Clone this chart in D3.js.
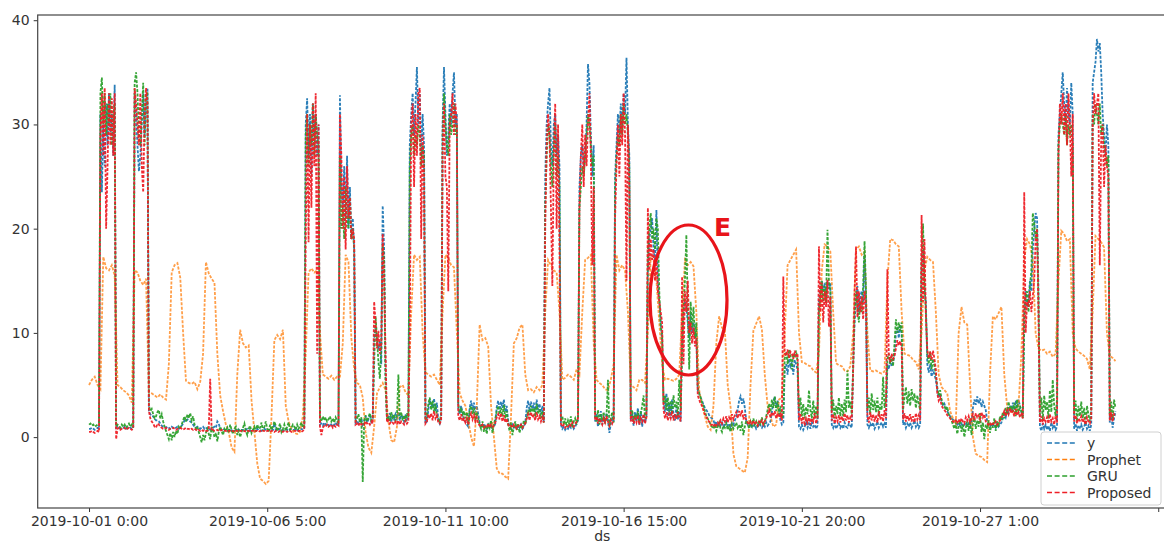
<!DOCTYPE html>
<html>
<head>
<meta charset="utf-8">
<script src="https://cdn.jsdelivr.net/npm/d3@7"></script>
<style>
  body { margin: 0; background: #fff; }
  svg { display: block; }
  text { font-family: "DejaVu Sans", sans-serif; }
</style>
</head>
<body>
<svg id="chart"></svg>
<script>
////Global variables
const width = 1164;
const height = 543;
const startTime = Date.UTC(2019, 9, 1, 0, 0); // 2019-10-01 0:00, hourly data
const HOUR = 3600 * 1000;

// observed load, hourly (one row = one day)
const yValues = [
  0.8,0.8,0.9,0.8,0.7,0.8,0.9,0.8,31,23.5,30,26,32,28,33,29,31,27,33.8,0.9,1.0,0.9,0.8,0.9,
  0.9,1.0,0.8,0.9,1.0,0.9,0.8,1.0,33,31,28,25.5,27,30,33,29,32,33.5,2.5,2.2,2.0,2.0,1.8,1.6,
  1.6,1.5,1.3,1.1,1.0,1.0,0.9,1.0,0.9,0.8,1.0,0.9,0.8,0.9,1.0,0.8,0.9,1.1,1.3,1.6,1.5,1.7,1.6,1.5,
  1.4,1.2,1.0,0.9,1.0,0.9,0.8,0.9,1.0,0.8,0.9,0.8,0.9,0.7,0.8,0.9,1.0,0.9,1.5,1.3,0.8,0.7,0.8,0.7,
  0.7,0.6,0.7,0.8,0.6,0.7,0.6,0.7,0.8,0.7,0.6,0.7,0.7,0.6,0.7,0.8,0.7,0.6,0.7,0.7,0.6,0.7,0.8,0.7,
  0.7,0.6,0.7,0.8,0.7,0.6,0.7,0.7,0.8,0.7,1.3,0.7,0.6,0.7,0.8,0.7,0.6,0.7,0.8,0.7,0.6,0.7,0.8,0.7,
  0.7,0.8,0.7,0.6,0.7,0.8,0.7,0.9,30,32.5,27,31,25,32,29,31,27,30,1.2,1.3,1.1,1.4,1.2,1.3,
  1.1,1.3,1.2,1.0,1.2,1.4,1.1,1.2,32.8,24,22,26,21,27,20,24,19,21,18,1.4,1.6,1.3,1.5,1.8,
  1.2,1.5,2.0,1.4,1.7,2.2,1.5,1.8,9.5,10.6,9.0,8.4,9.2,7.0,22.2,18,6.0,1.6,1.9,2.3,1.5,2.0,1.7,2.2,
  1.8,2.4,1.6,2.1,1.9,1.5,2.2,1.7,2.0,28,31,33,29,32,35.5,30,33,27,31,28,1.3,1.5,2.6,3.5,
  3.2,2.8,3.7,2.5,3.3,1.6,1.3,1.8,30,35.5,31,27,29,32,30,33,35,30,31,2.8,2.2,3.0,2.4,1.6,
  1.5,1.2,1.0,2.8,3.5,2.6,3.3,2.4,3.0,2.2,1.4,1.1,0.9,1.3,1.0,0.8,1.2,0.9,1.1,0.8,1.0,1.3,2.9,3.5,
  2.6,3.4,2.8,3.6,2.4,3.0,1.5,1.0,0.8,1.2,0.9,1.0,0.8,1.1,0.9,1.2,0.8,1.0,1.4,2.8,3.5,2.5,3.4,2.7,
  3.3,2.4,3.6,2.6,3.2,2.2,3.0,1.5,25,30,32,33.5,28,26,30,31,27,29,26,1.2,0.8,1.0,0.7,0.9,
  0.8,1.1,0.9,1.2,0.8,1.0,1.3,1.6,24,27,28,26,27,30,35.8,34,29,25,28,1.5,2.2,1.0,1.8,2.5,
  1.2,2.0,1.4,2.3,1.6,0.4,1.3,1.8,1.5,25,28,31,29,32,30,33,31,36.4,30,27,1.6,2.2,1.1,2.4,
  1.5,2.8,1.2,2.5,1.0,2.2,1.4,2.0,16,19,20,21,18,17,21.8,15,13,11,9,3.5,2.4,4.2,2.0,3.3,
  1.8,3.6,2.2,1.6,2.9,1.7,2.5,1.5,10,12,13,12.5,11,9.5,12,10,11,9.5,10,4.5,4.2,3.8,3.5,3.1,
  2.8,2.6,2.4,2.1,1.9,1.8,1.6,1.2,1.5,1.0,1.3,1.1,1.4,1.0,1.2,1.5,1.1,1.3,1.0,1.4,1.2,1.6,2.0,2.6,
  3.5,3.9,3.2,3.7,2.8,1.6,1.2,1.0,1.3,0.9,1.1,1.2,0.8,1.0,1.3,1.1,0.9,1.2,1.0,1.4,1.1,1.3,1.5,2.4,
  3.4,3.9,2.8,3.5,2.6,1.6,1.2,1.4,6.5,7,6,7.5,6.8,7.2,6,7.4,7,6.5,1.0,0.8,1.2,0.7,1.0,1.4,
  0.9,1.3,0.8,1.5,1.0,1.2,0.8,1.1,13,14.5,15,14,14.8,13.5,15,14.2,14.8,1.2,0.9,1.4,0.8,1.1,1.3,0.9,
  1.2,0.8,1.4,1.0,0.9,1.3,1.1,0.9,7,11,13,14.5,12,13.5,14,13,17.5,13.5,1.2,0.9,1.3,1.0,1.4,0.8,
  1.1,1.5,0.9,1.2,1.4,1.0,1.3,0.9,7,6.5,7.5,6.8,7.2,8,10,10.5,9.5,10.8,10,1.2,1.5,0.9,1.3,1.0,
  1.4,0.9,1.2,1.6,1.0,1.3,0.9,1.2,16,18,14,13,7,6.2,7,5.8,6.5,6,5.5,4.5,3.8,4.2,3.4,3.0,
  3.2,2.8,2.5,2.2,2.0,1.8,1.7,1.5,1.6,1.2,1.4,1.1,1.3,1.0,1.2,1.4,1.1,1.3,1.0,1.4,2.8,3.6,3.1,3.9,
  3.2,3.7,2.9,3.4,3.0,2.6,1.5,1.2,1.0,1.3,1.1,1.2,0.9,1.3,1.0,1.2,1.4,1.8,2.2,1.9,2.6,2.3,3.0,2.5,
  3.3,2.6,3.5,2.8,3.6,3.0,2.4,2.0,12,14,12.5,13,15,14,18,20,21.5,21,14,1.0,0.6,1.3,0.8,1.2,
  0.7,1.1,0.6,1.4,0.9,1.2,0.7,1.0,29,31,33,35,32,30,33.5,31,30,34,31,0.8,1.3,0.6,1.1,0.9,
  1.2,0.7,1.0,1.4,0.8,1.1,0.6,1.2,34,35,36,38.2,37,37.8,35,31,29,27,30,28,1.4,2.2,0.9,1.8,
  2.5
];

// Prophet forecast, every 2 hours (one row = one day)
const prophetValues = [
  5.0,5.5,5.8,5.0,4.6,17.3,16.2,16.0,16.5,15.5,5.0,4.8,
  4.5,4.3,4.0,3.3,16.0,15.8,15.0,14.6,15.2,4.3,4.2,4.0,
  3.8,4.1,3.8,3.6,7.0,15.8,16.5,16.7,15.3,10.0,5.4,5.2,
  5.1,5.3,4.6,5.3,8.0,16.8,15.7,15.2,14.8,8.0,4.0,2.5,
  1.2,0.5,-1.0,-1.4,6.0,10.3,9.0,8.6,8.8,3.5,0.5,-2.5,
  -4.0,-4.2,-4.5,-4.2,2.0,9.3,9.8,9.4,10.3,3.0,1.5,0.8,
  0.4,0.3,0.5,2.0,8.0,15.8,16.2,15.8,16.0,10.0,6.0,5.8,
  5.6,5.9,5.5,5.8,5.8,9.0,17.5,16.8,9.5,6.5,5.2,5.0,
  3.8,0.5,-1.0,-1.5,1.0,4.2,4.8,5.2,4.5,1.5,-0.3,-0.5,
  1.0,4.8,5.0,4.3,4.0,12.0,17.5,17.0,17.3,10.0,6.2,6.0,
  5.8,6.0,5.5,5.0,12.0,17.5,17.2,16.5,16.3,10.0,4.2,3.5,
  3.0,1.6,0.0,-0.9,3.0,10.8,9.3,9.5,8.7,3.0,0.0,-3.0,
  -3.5,-3.5,-3.8,-4.0,2.0,9.0,9.5,10.5,10.8,6.0,4.5,4.6,
  4.3,4.8,4.5,5.0,12.0,17.0,16.5,16.0,15.8,12.0,5.5,5.7,
  6.0,5.8,5.5,6.5,6.0,12.0,17.0,17.2,17.5,9.0,5.5,5.2,
  5.0,4.6,4.5,5.5,7.0,17.5,16.0,16.5,16.0,12.0,5.0,4.8,
  4.5,5.5,5.5,5.2,10.0,17.2,17.0,15.0,11.0,7.0,5.5,5.6,
  5.5,5.4,5.6,6.0,12.0,17.0,16.5,16.8,16.4,12.0,4.5,3.0,
  2.0,1.0,0.7,3.0,9.0,11.6,10.5,10.3,5.0,2.9,-1.6,-2.8,
  -3.0,-3.2,-3.4,-2.0,5.0,10.2,10.9,11.6,10.3,6.0,3.0,2.0,
  1.0,1.2,3.6,3.8,10.0,16.5,17.0,17.5,18.0,10.0,7.2,7.1,
  6.9,6.8,6.4,6.2,8.0,16.0,18.5,18.3,17.8,12.0,7.1,6.9,
  6.8,6.4,6.3,6.8,10.0,18.0,18.3,17.5,17.8,10.0,6.4,6.3,
  6.4,6.2,6.1,6.3,15.0,19.0,18.9,18.5,18.3,12.0,8.0,7.9,
  7.8,7.4,7.2,6.5,10.0,16.0,17.3,17.0,16.8,12.0,6.0,4.8,
  4.5,4.2,2.5,1.8,1.3,10.0,12.5,11.0,10.8,5.0,0.0,-1.6,
  -1.8,-1.9,-2.2,-2.4,6.0,11.6,11.3,11.9,12.5,6.0,2.9,2.5,
  2.3,2.3,3.0,8.0,17.0,19.0,18.5,17.0,10.0,8.5,8.3,8.4,
  8.0,8.2,7.7,8.0,15.0,19.8,19.5,18.8,19.0,10.0,8.5,8.2,
  8.0,7.8,7.5,6.5,12.0,19.3,19.0,18.7,18.2,10.0,7.8,7.6,
  7.3
];

// GRU forecast, hourly
const gruValues = [
  1.2,1.3,1.1,1.2,1.0,1.1,1.2,1.3,33,34.5,30,33,29,32,30,33,28,31,32,1.0,1.2,1.1,0.9,1.2,
  1.0,1.2,0.9,1.1,1.3,1.0,1.2,0.9,34,35,33,29,28,31,34,28,33,33,3.0,2.5,2.7,2.2,1.8,2.0,
  2.4,2.6,1.8,2.2,1.5,1.0,0.6,0.2,-0.2,0.4,-0.3,0.5,0.0,0.6,0.3,1.0,0.8,1.2,1.6,2.0,1.5,2.2,1.8,2.3,
  1.6,2.0,1.2,0.8,1.0,0.5,0.0,-0.5,0.2,-0.3,0.4,0.8,0.3,-0.2,1.0,0.6,0.0,0.4,-0.4,0.5,1.0,0.6,0.2,0.8,
  0.6,0.9,0.4,1.2,0.7,0.3,0.8,1.0,0.2,0.6,0.0,0.5,0.9,1.3,0.6,0.2,0.8,1.1,0.4,0.7,1.0,0.5,1.2,0.8,
  0.9,1.4,0.6,1.0,1.5,0.8,0.5,1.2,0.7,1.0,1.5,1.1,0.6,0.9,1.3,0.5,0.8,1.2,0.6,1.0,1.4,0.7,0.9,1.2,
  1.0,0.7,1.2,0.8,1.1,1.4,0.9,1.2,29,31,26,30,28,32,27,31,29,28,1.8,1.5,2.0,1.6,1.9,1.5,
  1.7,2.0,1.5,1.8,1.4,1.9,1.6,1.3,27,20,22,19,24,21,20,23,19,20,18,1.5,1.8,2.2,1.4,1.9,
  -4.3,1.6,2.1,1.5,1.9,2.3,1.6,1.8,7.0,11.6,9.5,7.2,5.6,8.5,18.5,17.0,5.0,1.8,2.0,1.5,2.4,1.7,2.2,1.6,
  2.0,6.0,1.8,2.4,1.6,2.1,1.5,2.3,1.9,26,29,30,27,29,28,30,29,26,28,27,1.6,2.0,3.2,3.8,
  2.6,3.5,2.4,3.2,2.0,1.8,1.5,2.2,29,33,30,28,27,31,29,30,32,29,30,3.2,2.4,2.8,2.0,2.5,
  1.8,2.4,1.2,2.6,3.0,2.2,2.8,1.6,2.4,1.8,1.2,0.8,1.5,0.5,1.1,0.3,1.3,0.9,1.6,0.4,1.2,1.8,2.5,3.0,
  2.2,2.8,2.0,3.1,1.8,2.5,1.2,0.6,1.4,0.2,1.0,1.5,0.7,1.3,0.4,1.1,0.9,1.6,1.2,1.8,2.6,2.1,3.0,2.4,
  2.8,2.0,3.2,2.2,2.7,1.8,2.5,1.4,22,27,30,29,26,24,28,30,25,27,24,1.5,2.0,1.2,1.8,1.0,
  1.6,1.2,2.0,0.9,1.5,1.8,1.2,2.0,22,24,26,25,27,29,31,30,28,26,27,2.0,1.5,2.6,1.2,2.2,
  1.6,2.4,1.3,2.0,5.5,1.0,1.8,2.4,1.4,24,27,29,28,31,29,32,30,31,29,26,2.0,2.6,1.5,2.2,
  1.8,2.5,1.4,2.2,3.0,4.0,1.8,2.4,18,20,21.5,19,20,18,21,20,14,10.5,10,3.2,4.0,2.6,3.8,2.4,
  3.5,2.2,4.0,2.8,3.4,2.0,5.5,2.5,8,12,15,19.4,12,6.5,13,10.5,12.5,9.5,11,4.8,4.2,3.8,3.3,3.0,
  2.5,2.0,1.8,1.5,1.2,1.0,0.8,1.2,0.6,1.0,1.4,0.8,0.5,1.1,0.9,1.3,0.7,1.0,0.5,1.2,0.8,1.1,1.4,0.9,
  1.2,0.6,1.5,0.2,1.0,1.6,1.3,0.8,1.5,1.1,1.8,1.2,1.5,1.0,1.6,1.3,1.9,1.1,1.4,2.0,2.6,3.2,2.4,3.6,
  2.8,3.9,2.5,3.4,2.2,3.0,1.8,2.2,7.5,8.2,7,8.4,7.8,6.5,8,7.6,8.3,7.2,2.5,3.8,2.0,3.2,1.8,2.9,
  2.2,4.5,2.6,1.8,3.5,2.0,3.0,1.8,12,13.5,15,13,14.5,12.9,19.9,15,14,2.5,3.6,1.8,3.0,2.2,3.8,2.0,
  3.2,2.0,3.6,2.4,6.4,2.8,3.4,2.2,6.5,12,14,12.5,11,13,12,14.5,18.8,14,2.6,3.8,2.2,4.2,2.6,3.5,
  2.4,3.8,2.0,3.2,2.6,5.8,2.8,3.6,7.5,8,7,7.8,6.8,9,11.3,10,11,10.2,11,2.6,3.8,4.8,3.2,4.4,
  3.0,4.6,3.5,4.2,2.8,4.0,3.2,2.6,17,20.5,15,12,8,7,8.2,6.5,7.5,6.8,6,4.8,4.0,4.5,3.6,3.2,
  3.0,2.6,2.9,2.2,2.0,1.6,1.2,0.8,1.4,0.3,1.0,1.6,0.5,1.2,0.0,0.9,1.5,0.6,1.8,0.2,1.2,2.0,0.8,1.6,
  1.0,2.3,0.5,1.4,-0.2,1.2,0.8,1.6,0.4,1.3,0.9,1.8,0.6,1.5,1.0,2.0,1.6,2.4,1.8,2.8,2.2,3.4,2.6,3.0,
  2.4,3.3,2.0,3.6,2.2,3.0,2.5,1.8,11,13.5,14,12,14.5,16,21.5,20.5,19,20,13,2.2,3.8,1.6,4.0,2.6,
  3.4,1.8,4.5,2.4,5.5,3.0,2.0,3.6,28,30,31,30,29,31,28,30,29,30,28,2.2,3.5,1.5,3.0,2.0,
  3.4,1.8,2.8,1.2,3.0,2.2,1.5,2.6,31,30,32,31,30,32,29,30,28,27,26,27,2.0,3.4,1.6,3.6,
  2.8
];

// proposed model forecast, hourly
const proposedValues = [
  0.5,0.5,0.6,0.5,0.4,0.5,0.6,0.5,29,33,27,33.5,20,26,33,28,32.5,27,33,-0.2,0.8,0.9,0.7,0.8,
  0.8,0.9,0.7,0.8,0.9,0.8,0.7,0.9,33.5,32,30,28,33,26,23.5,31,33.5,32,2.5,1.8,1.5,1.3,1.0,0.9,
  1.3,1.2,1.0,0.9,0.8,0.8,0.9,0.8,0.7,0.8,0.8,0.9,0.8,0.7,0.8,0.8,0.9,0.8,0.7,0.8,0.9,0.8,0.8,0.7,
  0.8,0.7,0.8,0.7,0.6,0.7,0.6,0.7,0.6,0.7,0.6,0.6,0.7,5.6,0.6,0.7,0.6,0.6,0.7,0.6,0.6,0.7,0.6,0.6,
  0.6,0.5,0.6,0.6,0.5,0.6,0.5,0.6,0.6,0.5,0.6,0.6,0.5,0.6,0.5,0.6,0.6,0.5,0.6,0.6,0.5,0.6,0.6,0.5,
  0.6,0.5,0.6,0.6,0.5,0.6,0.6,0.5,0.6,0.6,0.5,0.6,0.6,0.5,0.6,0.6,0.5,0.6,0.6,0.5,0.6,0.6,0.5,0.6,
  0.6,0.6,0.5,0.6,0.6,0.5,0.6,0.7,19,31,18.7,30,22,32,26,33,8,30,1.0,0.2,0.9,1.1,1.0,1.2,
  1.0,1.1,1.2,0.9,1.1,1.0,1.2,1.1,31,27,20,25,18,26,21,23,19,20,19,1.2,1.3,1.1,1.4,1.2,
  1.3,1.2,1.5,1.3,1.4,1.2,1.5,1.3,13.0,11.0,8.5,10.2,8.0,9.0,19.5,15.0,8.0,1.4,1.6,1.3,1.5,1.4,1.2,1.5,
  1.3,1.6,1.2,1.5,1.4,1.2,1.6,1.3,1.5,10,30,32,24,31,27,33,33.5,19,29,25,1.3,1.5,2.2,1.8,
  2.3,1.6,2.5,1.8,2.1,1.4,1.3,1.6,27,32,25,24,14,30,31,33,29,32,30,2.0,1.6,2.2,1.5,1.8,
  1.4,1.8,1.2,2.0,2.3,1.7,2.1,1.5,1.9,1.3,1.1,1.0,1.2,0.9,1.1,1.0,1.3,0.9,1.2,1.0,1.1,1.4,1.9,2.2,
  1.7,2.3,1.5,2.1,1.4,1.8,1.2,1.0,1.1,0.9,1.2,1.0,0.8,1.1,1.0,1.2,0.9,1.1,1.3,1.8,2.2,1.6,2.4,1.9,
  2.1,1.6,2.4,1.7,2.0,1.5,1.9,1.4,20,28,31,29,22,14.5,27,32,20,30,18,1.3,1.0,1.2,0.9,1.1,
  1.0,1.3,1.1,1.4,1.0,1.2,1.5,1.8,22,27,30,24,29,26,30,33,27,16.5,24,1.6,2.0,1.3,1.8,1.5,
  1.2,1.8,1.4,2.0,1.5,1.1,1.6,1.3,1.7,21,26,30,25,31,28,33,29,15,30,24,1.5,2.0,1.3,1.8,
  1.4,2.1,1.2,1.8,1.5,2.2,1.3,1.9,22,16,19,17,18,15,17,14,13,12,11,2.6,1.8,2.4,1.6,2.2,
  1.8,2.5,1.6,2.2,1.7,2.4,1.9,1.5,15.4,7,14,12,15,10,11,9,10.5,8.7,9.5,4.0,3.6,3.2,3.0,2.6,
  2.2,2.0,1.6,1.5,1.2,1.2,1.0,1.3,1.1,1.4,1.2,1.6,1.3,1.8,1.5,2.0,1.4,1.9,1.6,2.2,1.7,2.1,2.4,1.8,
  2.5,2.0,2.6,1.7,2.2,1.6,1.4,1.2,1.5,1.3,1.6,1.2,1.4,1.1,1.5,1.3,1.6,1.2,1.5,1.8,2.2,2.6,1.9,2.4,
  2.0,2.5,1.8,2.3,1.9,2.2,1.6,15.4,8,7.8,8.4,7.6,8.2,8,7.5,8.3,7.8,8,1.6,2.2,1.3,2.0,1.1,1.8,
  1.4,2.1,1.2,1.8,1.5,2.3,1.3,1.9,18.3,12,14.8,11,14,12.5,15.1,10.6,13.5,1.6,2.2,1.3,1.9,1.5,2.1,1.4,
  2.0,1.5,2.3,1.6,2.1,1.4,1.9,1.6,6.5,14,18.3,11.5,14,12,13.5,11.3,14,12.5,2.0,1.4,2.4,1.6,2.2,1.5,
  2.1,1.4,2.5,1.7,2.2,1.5,2.6,1.8,16.1,7.8,7.2,8,7.5,7.8,8.5,9.3,8.8,9.2,8.6,1.7,2.3,1.5,2.1,1.6,
  2.2,1.5,2.0,1.4,2.3,1.7,2.1,1.6,21.3,13,19,11.6,8.4,7.6,8.2,7.4,8.3,7.5,6.5,4.2,3.5,3.8,3.0,2.8,
  2.6,2.4,2.1,2.0,1.8,1.6,1.5,1.4,1.6,1.3,1.7,1.4,1.8,1.5,1.3,1.9,1.6,2.0,1.4,1.8,2.2,1.6,2.3,1.9,
  2.1,1.7,2.4,1.9,2.2,1.5,1.3,1.2,1.4,1.1,1.3,1.2,1.5,1.2,1.4,1.6,1.9,2.1,2.5,2.0,2.6,2.2,2.8,2.3,
  2.5,2.0,2.7,2.1,2.4,1.9,2.2,1.8,23.5,10,13,12.5,14,12,13.5,15,19,20,12,1.4,2.0,1.2,1.8,1.5,
  1.9,1.3,2.2,1.5,1.8,1.2,2.0,1.4,27,32,30,33,29,32,28,33,30,25,31,1.5,2.1,1.3,1.8,1.6,
  2.0,1.4,1.7,1.2,1.9,1.5,1.3,1.8,30,33,31,32,33,16.5,29,30,24,28,26,25,1.6,2.4,1.5,2.2,
  2.0
];

const seriesNames = ["y", "Prophet", "GRU", "Proposed"];
const seriesColors = ["#1f77b4", "#ff7f0e", "#2ca02c", "#ee1f26"];
const seriesStepHours = [1, 2, 1, 1];
const tickDates = ["2019-10-01T00:00Z", "2019-10-06T05:00Z", "2019-10-11T10:00Z",
                   "2019-10-16T15:00Z", "2019-10-21T20:00Z", "2019-10-27T01:00Z", "2019-11-01T06:00Z"];
const tickLabels = ["2019-10-01 0:00", "2019-10-06 5:00", "2019-10-11 10:00",
                    "2019-10-16 15:00", "2019-10-21 20:00", "2019-10-27 1:00", ""];
const yTicks = [0, 10, 20, 30, 40];

const svg = d3.select("#chart").attr("width", width).attr("height", height);

// scales (5% margins around 720 h of data, like the original)
const xScale = d3.scaleUtc()
  .domain([new Date(startTime - 36 * HOUR), new Date(startTime + 756 * HOUR)])
  .range([37.7, 1166.8]);
const yScale = d3.scaleLinear().domain([-6.8, 40.5]).range([508, 15]);

const plotLeft = xScale.range()[0], plotRight = xScale.range()[1];
const plotTop = yScale.range()[1], plotBottom = yScale.range()[0];

svg.append("defs").append("clipPath").attr("id", "plot-clip")
  .append("rect").attr("x", plotLeft).attr("y", plotTop)
  .attr("width", plotRight - plotLeft).attr("height", plotBottom - plotTop);

// lines
const allValues = [yValues, prophetValues, gruValues, proposedValues];
const line = d3.line()
  .x(d => xScale(d.t))
  .y(d => yScale(d.v));

const plot = svg.append("g").attr("clip-path", "url(#plot-clip)");
allValues.forEach((vals, k) => {
  const pts = vals.map((v, i) => ({ t: new Date(startTime + i * seriesStepHours[k] * HOUR), v: v }));
  plot.append("path")
    .datum(pts)
    .attr("d", line)
    .attr("fill", "none")
    .attr("stroke", seriesColors[k])
    .attr("stroke-width", 1.8)
    .attr("stroke-dasharray", "3,1.5")
    .attr("opacity", k === 1 ? 0.75 : 0.95);
});

// axes
const xAxis = d3.axisBottom(xScale)
  .tickValues(tickDates.map(s => new Date(s)))
  .tickFormat((d, i) => tickLabels[i])
  .tickSize(4).tickPadding(4);
const gx = svg.append("g").attr("transform", "translate(0," + plotBottom + ")").call(xAxis);

const yAxis = d3.axisLeft(yScale).tickValues(yTicks).tickSize(4).tickPadding(4);
const gy = svg.append("g").attr("transform", "translate(" + plotLeft + ",0)").call(yAxis);

[gx, gy].forEach(g => {
  g.select(".domain").remove();
  g.selectAll(".tick line").attr("stroke", "#333").attr("stroke-width", 1);
  g.selectAll(".tick text").attr("fill", "#333").style("font-size", "14px");
});

// frame
svg.append("rect")
  .attr("x", plotLeft).attr("y", plotTop)
  .attr("width", plotRight - plotLeft).attr("height", plotBottom - plotTop)
  .attr("fill", "none").attr("stroke", "#444").attr("stroke-width", 1.2);

svg.append("text")
  .attr("x", (plotLeft + plotRight) / 2).attr("y", 541)
  .attr("text-anchor", "middle").attr("fill", "#333")
  .style("font-size", "14px").text("ds");

// legend
const legend = svg.append("g").attr("transform", "translate(1041,432)");
legend.append("rect")
  .attr("width", 120).attr("height", 73).attr("rx", 3)
  .attr("fill", "#fff").attr("fill-opacity", 0.85)
  .attr("stroke", "#d0d0d0");
seriesNames.forEach((name, i) => {
  const cy = 11 + i * 16.5;
  legend.append("line")
    .attr("x1", 6).attr("x2", 36).attr("y1", cy).attr("y2", cy)
    .attr("stroke", seriesColors[i]).attr("stroke-width", 1.5)
    .attr("stroke-dasharray", "5,2.6");
  legend.append("text")
    .attr("x", 46).attr("y", cy + 5)
    .attr("fill", "#333").style("font-size", "14px")
    .text(name);
});

// annotation around event E
svg.append("ellipse")
  .attr("cx", xScale(new Date(startTime + 420.5 * HOUR))).attr("cy", 300)
  .attr("rx", 38.5).attr("ry", 75)
  .attr("fill", "none").attr("stroke", "#e8141a").attr("stroke-width", 3.2);
svg.append("text")
  .attr("x", 714).attr("y", 236)
  .attr("fill", "#e8141a").style("font-size", "25px").style("font-weight", "bold")
  .text("E");
</script>
</body>
</html>
